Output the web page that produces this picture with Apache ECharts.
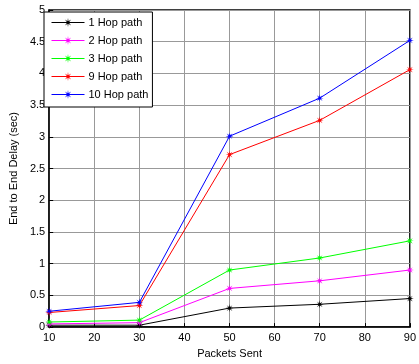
<!DOCTYPE html>
<html>
<head>
<meta charset="utf-8">
<script src="https://cdn.jsdelivr.net/npm/echarts@6/dist/echarts.min.js"></script>
<style>
  html, body { margin: 0; padding: 0; background: #fff; }
  #chart { width: 419px; height: 364px; }
</style>
</head>
<body>
<div id="chart"></div>
<script>
const packetsSent = [10, 30, 50, 70, 90]
const hop1 = [0.03, 0.03, 0.30, 0.36, 0.45]
const hop2 = [0.05, 0.07, 0.61, 0.73, 0.90]
const hop3 = [0.08, 0.11, 0.90, 1.09, 1.36]
const hop9 = [0.23, 0.34, 2.72, 3.26, 4.06]
const hop10 = [0.25, 0.39, 3.01, 3.61, 4.52]
const seriesNames = ['1 Hop path', '2 Hop path', '3 Hop path', '9 Hop path', '10 Hop path']
const seriesColors = ['#000000', '#ff00ff', '#00ff00', '#ff0000', '#0000ff']

const star = 'path://M0,-10 L1.15,-2.77 L7.07,-7.07 L2.77,-1.15 L10,0 L2.77,1.15 L7.07,7.07 L1.15,2.77 L0,10 L-1.15,2.77 L-7.07,7.07 L-2.77,1.15 L-10,0 L-2.77,-1.15 L-7.07,-7.07 L-1.15,-2.77 Z'
const font = 'Liberation Sans'

const chart = echarts.init(document.getElementById('chart'))

chart.setOption({
  animation: false,
  backgroundColor: '#fff',
  grid: { left: 40, right: 8, top: 10, bottom: 36, show: true, borderColor: '#000', borderWidth: 1.5 },
  legend: {
    orient: 'vertical',
    left: 44,
    top: 12,
    backgroundColor: '#fff',
    borderColor: '#000',
    borderWidth: 1,
    padding: [5, 4, 7, 7],
    itemGap: 7,
    itemWidth: 33,
    itemHeight: 11,
    lineStyle: { width: 1 },
    textStyle: { fontFamily: font, fontSize: 11, color: '#000', padding: [0, 0, 0, -1] },
    data: seriesNames,
  },
  xAxis: {
    type: 'value',
    min: 10,
    max: 90,
    interval: 10,
    name: 'Packets Sent',
    nameLocation: 'middle',
    nameGap: 20,
    nameTextStyle: { fontFamily: font, fontSize: 11, color: '#000' },
    axisLine: { lineStyle: { color: '#000', width: 1.5 } },
    axisTick: { inside: true, length: 4, lineStyle: { color: '#000' } },
    axisLabel: { fontFamily: font, fontSize: 11, color: '#000', margin: 5 },
    splitLine: { show: true, lineStyle: { color: '#999', width: 1 } },
  },
  yAxis: {
    type: 'value',
    min: 0,
    max: 5,
    interval: 0.5,
    name: 'End to End Delay (sec)',
    nameLocation: 'middle',
    nameGap: 28,
    nameTextStyle: { fontFamily: font, fontSize: 11, color: '#000' },
    axisLine: { lineStyle: { color: '#000', width: 1.5 } },
    axisTick: { inside: true, length: 4, lineStyle: { color: '#000' } },
    axisLabel: { fontFamily: font, fontSize: 11, color: '#000', margin: 4 },
    splitLine: { show: true, lineStyle: { color: '#999', width: 1 } },
  },
  series: [hop1, hop2, hop3, hop9, hop10].map((values, i) => ({
    name: seriesNames[i],
    type: 'line',
    symbol: star,
    symbolSize: 8,
    color: seriesColors[i],
    lineStyle: { width: 1, color: seriesColors[i] },
    itemStyle: { color: seriesColors[i] },
    data: packetsSent.map((x, j) => [x, values[j]]),
  })),
})
</script>
</body>
</html>
